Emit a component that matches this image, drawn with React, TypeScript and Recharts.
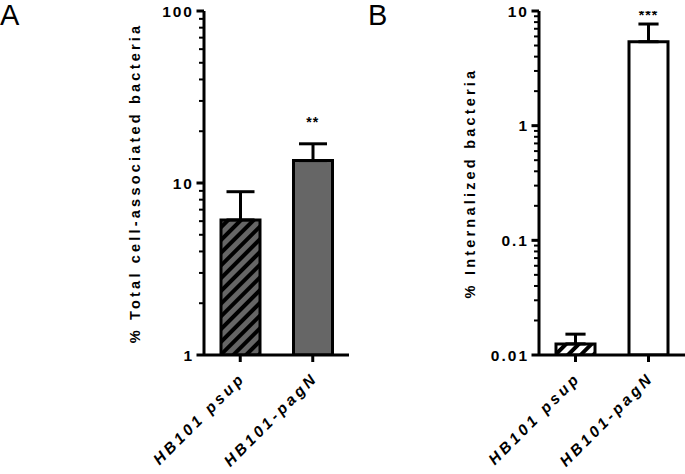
import React from 'react';
import { Bar, Cell, ComposedChart, ErrorBar, Scatter, XAxis, YAxis } from 'recharts';

// strains on the x axis
const strains = ['HB101 psup', 'HB101-pagN'];

// panel A: % total cell-associated bacteria
const totalMean = [6.1, 13.5];
const totalErr = [2.8, 3.4];
const totalSig = ['', '**'];
const totalSigAt = [null, 23.5];

// panel B: % internalized bacteria
const internMean = [0.0125, 5.4];
const internErr = [0.0027, 2.3];
const internSig = ['', '***'];
const internSigAt = [null, 9.8];

const ticksA = [1, 2, 3, 4, 5, 6, 7, 8, 9, 10, 20, 30, 40, 50, 60, 70, 80, 90, 100];
const majorsA = [1, 10, 100];
const ticksB = [
  0.01, 0.02, 0.03, 0.04, 0.05, 0.06, 0.07, 0.08, 0.09,
  0.1, 0.2, 0.3, 0.4, 0.5, 0.6, 0.7, 0.8, 0.9,
  1, 2, 3, 4, 5, 6, 7, 8, 9, 10,
];
const majorsB = [0.01, 0.1, 1, 10];

const FONT = '"Liberation Sans", Arial, sans-serif';

const buildRows = (mean: number[], err: number[], sig: string[], sigAt: (number | null)[]) =>
  strains.map((name, i) => ({ name, mean: mean[i], err: [0, err[i]], sig: sig[i], sigAt: sigAt[i] }));

const YTick = (props: any) => {
  const { x, y, payload, majors } = props;
  const major = majors.includes(payload.value);
  return (
    <g>
      <line
        x1={x - (major ? 7.5 : 5)}
        x2={x}
        y1={y}
        y2={y}
        stroke="#000"
        strokeWidth={major ? 3 : 2}
      />
      {major && (
        <text
          x={x - 10}
          y={y}
          dy={5.5}
          textAnchor="end"
          fontFamily={FONT}
          fontWeight="bold"
          fontSize={15.5}
          letterSpacing={2}
          fill="#000"
        >
          {String(payload.value)}
        </text>
      )}
    </g>
  );
};

const XTick = (props: any) => {
  const { x, y, payload } = props;
  return (
    <text
      transform={`translate(${x + 6},${y + 17}) rotate(-45)`}
      textAnchor="end"
      fontFamily={FONT}
      fontWeight="bold"
      fontStyle="italic"
      fontSize={15.5}
      letterSpacing={3.3}
      fill="#000"
    >
      {payload.value}
    </text>
  );
};

const AxisTitle = (props: any) => {
  const { viewBox, text, gap } = props;
  const tx = viewBox.x + viewBox.width - gap;
  const ty = viewBox.y + viewBox.height / 2;
  return (
    <text
      transform={`translate(${tx},${ty}) rotate(-90)`}
      textAnchor="middle"
      dominantBaseline="central"
      fontFamily={FONT}
      fontWeight="bold"
      fontSize={14.5}
      letterSpacing={3.2}
      fill="#000"
    >
      {text}
    </text>
  );
};

const SigMark = (props: any) => {
  const { cx, cy, payload } = props;
  if (!payload || !payload.sig) return null;
  return (
    <text
      x={cx}
      y={cy + 8}
      textAnchor="middle"
      fontFamily={FONT}
      fontWeight="bold"
      fontSize={14}
      letterSpacing={1}
      fill="#000"
    >
      {payload.sig}
    </text>
  );
};

const Panel = ({
  rows, width, axisWidth, right, domain, ticks, majors, title, gap, fill, hatch, capWidth,
}: any) => (
  <ComposedChart
    width={width}
    height={474}
    data={rows}
    margin={{ top: 11, right, bottom: 0, left: 0 }}
  >
    <defs>
      <pattern id={hatch.id} patternUnits="userSpaceOnUse" width={9} height={9} patternTransform="rotate(45)">
        <rect width={9} height={9} fill={hatch.bg} />
        <rect width={4} height={9} fill="#000" />
      </pattern>
    </defs>
    <XAxis
      dataKey="name"
      height={119}
      axisLine={{ stroke: '#000', strokeWidth: 3 }}
      tickLine={{ stroke: '#000', strokeWidth: 3 }}
      tickSize={7}
      tickMargin={0}
      tick={<XTick />}
      interval={0}
    />
    <YAxis
      type="number"
      scale="log"
      domain={domain}
      ticks={ticks}
      interval={0}
      width={axisWidth}
      axisLine={{ stroke: '#000', strokeWidth: 3 }}
      tickLine={false}
      tickSize={0}
      tickMargin={0}
      tick={<YTick majors={majors} />}
      allowDataOverflow
      label={<AxisTitle text={title} gap={gap} />}
    />
    <Bar dataKey="mean" barSize={39} stroke="#000" strokeWidth={3} isAnimationActive={false}>
      {rows.map((r: any, i: number) => (
        <Cell key={r.name} fill={i === 0 ? `url(#${hatch.id})` : fill} />
      ))}
      <ErrorBar dataKey="err" direction="y" width={14 * capWidth} stroke="#000" strokeWidth={3} />
    </Bar>
    <Scatter dataKey="sigAt" shape={<SigMark />} isAnimationActive={false} />
  </ComposedChart>
);

export default function App() {
  const rowsA = buildRows(totalMean, totalErr, totalSig, totalSigAt);
  const rowsB = buildRows(internMean, internErr, internSig, internSigAt);
  return (
    <div style={{ position: 'absolute', top: 0, left: 0, width: 685, height: 474, background: '#fff', overflow: 'hidden' }}>
      <div style={{ position: 'absolute', left: 0, top: 0 }}>
        <Panel
          rows={rowsA}
          width={360}
          axisWidth={204}
          right={11}
          domain={[1, 100]}
          ticks={ticksA}
          majors={majorsA}
          title="% Total cell-associated bacteria"
          gap={69}
          fill="#666666"
          hatch={{ id: 'hatchA', bg: '#666666' }}
          capWidth={1}
        />
      </div>
      <div style={{ position: 'absolute', left: 360, top: 0 }}>
        <Panel
          rows={rowsB}
          width={325}
          axisWidth={179}
          right={0}
          domain={[0.01, 10]}
          ticks={ticksB}
          majors={majorsB}
          title="% Internalized bacteria"
          gap={69}
          fill="#ffffff"
          hatch={{ id: 'hatchB', bg: '#ffffff' }}
          capWidth={0.72}
        />
      </div>
      <svg width={685} height={474} style={{ position: 'absolute', left: 0, top: 0, pointerEvents: 'none' }}>
        <text x={0} y={25} fontFamily={FONT} fontSize={29} fill="#000">A</text>
        <text x={368} y={25} fontFamily={FONT} fontSize={29} fill="#000">B</text>
      </svg>
    </div>
  );
}
